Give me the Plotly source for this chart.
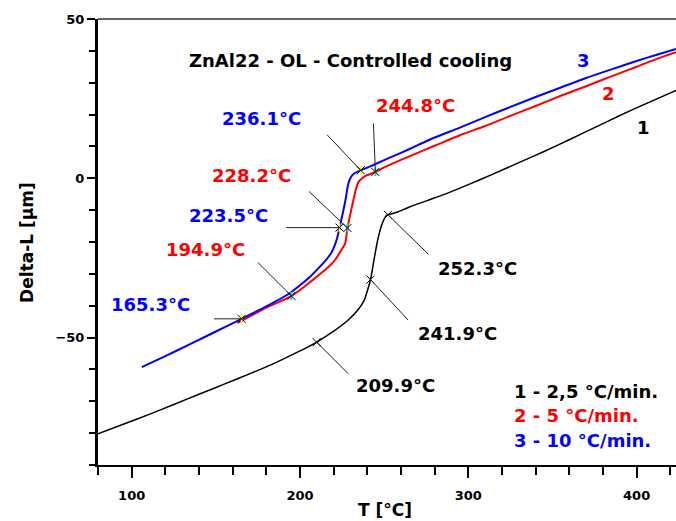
import numpy as np
import plotly.graph_objects as go

# Dilatometer curves: temperature T [°C] vs. length change Delta-L [µm]
t_1 = [80, 95, 110, 125, 140, 155, 170, 185, 200, 210, 220, 228, 234, 238, 240.5, 242,
       244, 246.5, 249, 251.5, 254, 258, 265, 275, 287, 300, 315, 330, 345, 360, 375,
       390, 405, 423.4]
dl_1 = [-80.2, -77.2, -74.2, -71.0, -67.8, -64.6, -61.4, -58.0, -54.2, -51.4, -48.0,
        -44.8, -41.6, -38.5, -34.5, -31.6, -25.5, -18.6, -14.0, -11.6, -11.2, -10.6,
        -9.0, -7.1, -4.8, -2.0, 1.4, 4.9, 8.4, 12.1, 15.9, 19.7, 23.3, 27.6]

t_2 = [163, 170, 180, 195, 206, 213, 218, 221, 224, 226.8, 228.2, 230, 231.7, 233.2,
       234.7, 237, 239.6, 244.8, 250, 260, 270, 280, 295, 310, 325, 340, 355, 370, 385,
       400, 412, 423.4]
dl_2 = [-45.4, -43.4, -40.6, -36.9, -32.6, -29.6, -27.3, -25.5, -23.0, -20.5, -15.6,
        -11.0, -6.9, -3.5, -1.2, 0.0, 0.9, 2.0, 3.4, 5.8, 8.0, 10.2, 13.5, 16.4, 19.6,
        22.7, 25.9, 28.9, 32.0, 35.0, 37.5, 39.6]

t_3 = [106, 120, 135, 150, 165, 180, 193, 200, 206, 211, 215, 218, 220, 222, 223.8,
       225.5, 227, 228.7, 230.2, 232, 234, 236.1, 242, 250, 260, 270, 280, 295, 310,
       325, 340, 355, 370, 385, 400, 412, 423.4]
dl_3 = [-59.3, -55.8, -52.0, -48.1, -44.2, -40.2, -36.4, -33.6, -30.9, -28.2, -25.9,
        -23.9, -21.9, -18.9, -14.8, -10.8, -6.9, -1.7, 0.3, 1.4, 2.0, 2.5, 3.8, 5.7,
        8.0, 10.4, 12.8, 15.9, 19.2, 22.4, 25.5, 28.5, 31.5, 34.2, 36.8, 38.8, 40.6]

# Characteristic temperatures marked on each curve
marks_1 = [209.9, 241.9, 252.3]
marks_2 = [194.9, 228.2, 244.8]
marks_3 = [165.3, 223.5, 236.1]

rate_labels = ["1 - 2,5 °C/min.", "2 - 5 °C/min.", "3 - 10 °C/min."]
title_text = "ZnAl22 - OL - Controlled cooling"

BLUE, RED, BLACK = "#0000ff", "#ff0000", "#000000"
FONT = "DejaVu Sans"

fig = go.Figure()

for t, dl, col, w in [(t_1, dl_1, BLACK, 1.5), (t_2, dl_2, RED, 2), (t_3, dl_3, BLUE, 2)]:
    fig.add_trace(go.Scatter(x=t, y=dl, mode="lines",
                             line=dict(color=col, width=w, shape="spline", smoothing=0.7),
                             showlegend=False, hoverinfo="skip"))

# marker points, taken on the curves at the stated temperatures
def on_curve(temps, t, dl):
    return [float(np.interp(v, t, dl)) for v in temps]

curves = {
    "1": (marks_1, on_curve(marks_1, t_1, dl_1), BLACK, None),
    "2": (marks_2, on_curve(marks_2, t_2, dl_2), RED, "#00e0e0"),
    "3": (marks_3, on_curve(marks_3, t_3, dl_3), BLUE, "#ffff00"),
}
for key, (mx, my, col, hl) in curves.items():
    if hl:
        fig.add_trace(go.Scatter(x=mx, y=my, mode="markers", showlegend=False, hoverinfo="skip",
                                 marker=dict(symbol="line-ns", size=6,
                                             line=dict(color=hl, width=2))))
    fig.add_trace(go.Scatter(x=mx, y=my, mode="markers", showlegend=False, hoverinfo="skip",
                             marker=dict(symbol="x-thin", size=8,
                                         line=dict(color=BLACK, width=1))))

annotations = []

# leader lines (pixel offsets from the marked point) and value labels
leaders = {
    165.3: (-29, 0, 110.9, -39.5),
    223.5: (-55, 0, 157.8, -11.6),
    236.1: (-35, -37, 177.3, 18.8),
    194.9: (-35, -35, 144.0, -22.2),
    228.2: (-40, -38, 170.9, 1.0),
    244.8: (-2, -50, 268.9, 22.8),
    209.9: (33, 33, 257.0, -65.2),
    241.9: (39, 42, 293.4, -48.7),
    252.3: (42, 41, 305.2, -28.3),
}
for key, (mx, my, col, hl) in curves.items():
    for v, yv in zip(mx, my):
        ax, ay, lx, ly = leaders[v]
        annotations.append(dict(x=v, y=yv, xref="x", yref="y", text="", showarrow=True,
                                arrowhead=0, arrowwidth=1, arrowcolor="#202020",
                                ax=ax, ay=ay))
        annotations.append(dict(x=lx, y=ly, xref="x", yref="y", text=f"{v:.1f}°C",
                                showarrow=False, xanchor="center", yanchor="middle",
                                font=dict(family=FONT, size=18, color=col, weight="bold")))

# curve numbers
for txt, x, y, col in [("3", 368.2, 37.1, BLUE), ("2", 383.0, 26.6, RED), ("1", 403.8, 16.0, BLACK)]:
    annotations.append(dict(x=x, y=y, xref="x", yref="y", text=txt, showarrow=False,
                            font=dict(family=FONT, size=18, color=col, weight="bold")))

# cooling-rate key
for txt, y, col in zip(rate_labels, [0.1637, 0.1099, 0.056], [BLACK, RED, BLUE]):
    annotations.append(dict(x=0.716, y=y, xref="paper", yref="paper", text=txt,
                            showarrow=False, xanchor="left", yanchor="middle",
                            font=dict(family=FONT, size=18, color=col, weight="bold")))

# title inside the plot
annotations.append(dict(x=0.4377, y=0.906, xref="paper", yref="paper", text=title_text,
                        showarrow=False, xanchor="center", yanchor="middle",
                        font=dict(family=FONT, size=18, color=BLACK, weight="bold")))

# axis titles
annotations.append(dict(x=0.4965, y=-0.10, xref="paper", yref="paper", text="T [°C]",
                        showarrow=False, xanchor="center", yanchor="middle",
                        font=dict(family=FONT, size=17, color=BLACK, weight="bold")))
annotations.append(dict(x=-0.123, y=0.5, xref="paper", yref="paper", text="Delta-L [µm]",
                        showarrow=False, textangle=-90, xanchor="center", yanchor="middle",
                        font=dict(family=FONT, size=17, color=BLACK, weight="bold")))

fig.update_layout(
    width=676, height=521,
    margin=dict(l=98, r=0, t=19, b=56),
    paper_bgcolor="white", plot_bgcolor="white",
    showlegend=False,
    font=dict(family=FONT, color=BLACK),
    annotations=annotations,
    shapes=[dict(type="line", xref="paper", yref="paper", x0=0, x1=1, y0=1, y1=1,
                 line=dict(color="#303030", width=1.5))],
    xaxis=dict(range=[80, 423.4], showgrid=False, zeroline=False,
               showline=True, linecolor=BLACK, linewidth=2,
               ticks="outside", ticklen=11, tickwidth=2, tickcolor=BLACK,
               tickvals=[100, 200, 300, 400], ticklabelstandoff=6,
               tickfont=dict(family=FONT, size=13, color=BLACK, weight="bold"),
               minor=dict(dtick=20, tick0=0, ticks="outside", ticklen=8, tickwidth=2,
                          tickcolor=BLACK)),
    yaxis=dict(range=[-90, 50], showgrid=False, zeroline=False,
               showline=True, linecolor=BLACK, linewidth=3,
               ticks="outside", ticklen=8, tickwidth=2, tickcolor=BLACK,
               tickvals=[-50, 0, 50], ticklabelstandoff=0,
               tickfont=dict(family=FONT, size=13, color=BLACK, weight="bold"),
               minor=dict(dtick=10, tick0=0, ticks="outside", ticklen=6, tickwidth=2,
                          tickcolor=BLACK)),
)

fig.write_html("out.html")
